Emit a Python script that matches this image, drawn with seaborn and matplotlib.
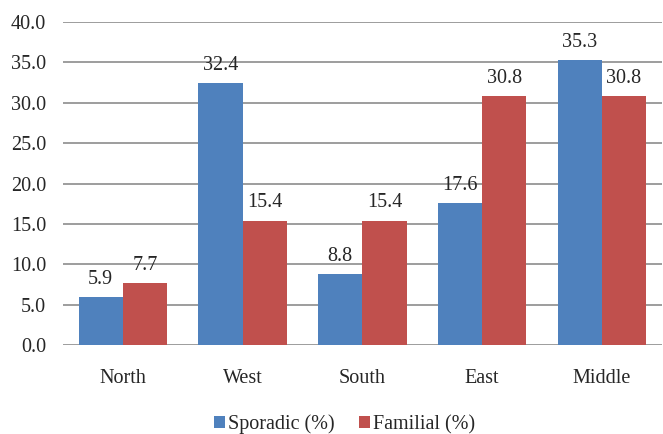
import matplotlib
matplotlib.use("Agg")
import matplotlib.pyplot as plt
import seaborn as sns
import pandas as pd
from matplotlib.patches import Patch

regions = ["North", "West", "South", "East", "Middle"]
sporadic = [5.9, 32.4, 8.8, 17.6, 35.3]
familial = [7.7, 15.4, 15.4, 30.8, 30.8]
series_names = ["Sporadic (%)", "Familial (%)"]
colors = ["#4F81BD", "#C0504D"]

df = pd.DataFrame({
    "Region": regions * 2,
    "Value": sporadic + familial,
    "Series": [series_names[0]] * len(regions) + [series_names[1]] * len(regions),
})

sns.set_style("white")
plt.rcParams["font.family"] = ["Liberation Serif", "DejaVu Serif"]
FS = 14.5

fig = plt.figure(figsize=(6.63, 4.34), dpi=100)
ax = fig.add_axes([0.095, 0.205, 0.903, 0.744])

sns.barplot(data=df, x="Region", y="Value", hue="Series", palette=colors,
            width=0.74, saturation=1, ax=ax, legend=False, zorder=3,
            linewidth=0, edgecolor="none")

ax.set_ylim(0, 40)
ax.set_yticks([0, 5, 10, 15, 20, 25, 30, 35, 40])
ax.set_yticklabels([f"{v:.1f}" for v in ax.get_yticks()], fontsize=FS)
ax.tick_params(axis="x", labelsize=FS, length=0, pad=17)
ax.tick_params(axis="y", length=0, pad=12)
ax.set_xlim(-0.5, 4.5)
ax.grid(axis="y", color="#8C8C8C", linewidth=1.2, zorder=0)
ax.set_axisbelow(True)
for s in ax.spines.values():
    s.set_visible(False)
ax.set_xlabel("")
ax.set_ylabel("")

for cont in ax.containers:
    ax.bar_label(cont, fmt="%.1f", padding=6, fontsize=FS)

handles = [Patch(facecolor=c, edgecolor="none") for c in colors]
fig.legend(handles, series_names, loc="lower center", bbox_to_anchor=(0.52, 0.0),
           borderaxespad=0.0, borderpad=0.0,
           ncol=2, frameon=False, fontsize=FS, handlelength=0.55, handleheight=0.55,
           columnspacing=1.2, handletextpad=0.15)

fig.savefig("out.png", dpi=100)
